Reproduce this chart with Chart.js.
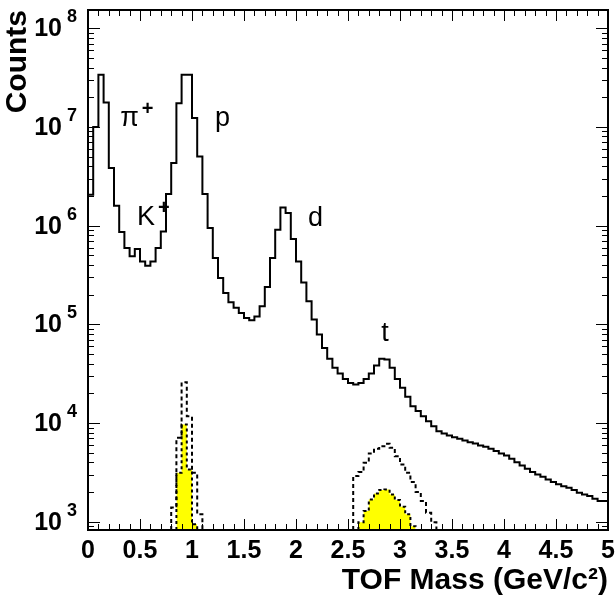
<!DOCTYPE html>
<html>
<head>
<meta charset="utf-8">
<style>
html, body { margin: 0; padding: 0; background: #fff; }
#wrap { width: 616px; height: 603px; }
</style>
</head>
<body>
<div id="wrap"><canvas id="myChart"></canvas></div>
<script src="https://cdn.jsdelivr.net/npm/chart.js@4.4.0/dist/chart.umd.min.js"></script>
<script>
// TOF mass spectrum, 100 bins of 0.05 GeV/c^2 between 0 and 5
const binWidth = 0.05
const massMin = 0, massMax = 5
const countsMin = 824, countsMax = 1.53e8

const allCounts = [
  2.06e6, 1.0e7, 3.37e7, 1.77e7, 3.83e6, 1.59e6, 8.61e5, 5.93e5, 4.88e5, 5.8e5,
  4.34e5, 3.93e5, 4.34e5, 5.93e5, 8.73e5, 2.09e6, 4.3e6, 1.74e7, 3.37e7, 3.37e7,
  1.23e7, 5.01e6, 2.09e6, 9.46e5, 4.7e5, 2.95e5, 2.08e5, 1.67e5, 1.47e5, 1.3e5,
  1.16e5, 1.1e5, 1.2e5, 1.52e5, 2.39e5, 4.7e5, 9.1e5, 1.53e6, 1.34e6, 7.31e5,
  4.34e5, 2.66e5, 1.71e5, 1.12e5, 7.87e4, 5.77e4, 4.47e4, 3.62e4, 3.17e4, 2.8e4,
  2.55e4, 2.45e4, 2.55e4, 2.8e4, 3.17e4, 3.82e4, 4.47e4, 4.4e4, 3.62e4, 2.8e4,
  2.27e4, 1.84e4, 1.48e4, 1.32e4, 1.17e4, 1.04e4, 9290, 8260, 7830, 7470,
  7180, 6920, 6650, 6400, 6210, 5920, 5740, 5480, 5190, 4910,
  4690, 4350, 4010, 3720, 3440, 3180, 3010, 2850, 2680, 2520,
  2390, 2290, 2210, 2090, 1970, 1890, 1820, 1710, 1620, 1620
]

// dashed histograms (first bin index + counts)
const looseStartP = 16
const looseCountsP = [1390, 7080, 25900, 11700, 3130, 1190]
const looseStartT = 51
const looseCountsT = [2900, 3180, 3950, 4910, 5480, 5820, 6150, 5610, 4610, 3800, 3130, 2520, 2000, 1620, 1230, 985]

// yellow filled histograms
const tightStartP = 17
const tightCountsP = [3130, 9660, 3380, 940]
const tightStartT = 52
const tightCountsT = [990, 1280, 1680, 1930, 2090, 2120, 1890, 1660, 1420, 1190, 900]

const particleNames = ['π', 'K', 'p', 'd', 't']
const yDecades = [3, 4, 5, 6, 7, 8]
const xTickStep = 0.5

function histPoints(values, startBin) {
  let pts = [{x: massMin + startBin * binWidth, y: countsMin}]
  values.forEach((v, i) => pts.push({x: massMin + (startBin + i) * binWidth, y: v}))
  let end = massMin + (startBin + values.length) * binWidth
  pts.push({x: end, y: values[values.length - 1]})
  pts.push({x: end, y: countsMin})
  return pts
}

const font = "'Liberation Sans', Arial, Helvetica, sans-serif"
Chart.defaults.font.family = font
Chart.defaults.color = '#000'

const frameAndTicks = {
  id: 'frameAndTicks',
  afterDatasetsDraw(chart) {
    const {ctx, chartArea: a, scales: {x, y}} = chart
    ctx.save()
    ctx.strokeStyle = '#000'
    ctx.lineWidth = 1
    ctx.beginPath()
    for (let k = 0; k <= 50; k++) {
      let px = Math.round(x.getPixelForValue(k * 0.1)) + 0.5
      let len = k % 5 === 0 ? 11 : 6
      ctx.moveTo(px, a.bottom); ctx.lineTo(px, a.bottom - len)
      ctx.moveTo(px, a.top); ctx.lineTo(px, a.top + len)
    }
    for (let e = 2; e <= 8; e++) {
      for (let m = 1; m <= 9; m++) {
        let v = m * Math.pow(10, e)
        if (v < countsMin || v > countsMax) continue
        let py = Math.round(y.getPixelForValue(v)) + 0.5
        let len = m === 1 ? 12 : 6
        ctx.moveTo(a.left, py); ctx.lineTo(a.left + len, py)
        ctx.moveTo(a.right, py); ctx.lineTo(a.right - len, py)
      }
    }
    ctx.stroke()
    ctx.lineWidth = 2
    ctx.strokeRect(a.left, a.top, a.right - a.left, a.bottom - a.top)

    // y labels 10^n
    ctx.fillStyle = '#000'
    ctx.textBaseline = 'middle'
    yDecades.forEach(e => {
      let py = y.getPixelForValue(Math.pow(10, e))
      ctx.font = 'bold 25px ' + font
      ctx.textAlign = 'right'
      ctx.fillText('10', 62, py + 1)
      ctx.font = 'bold 18px ' + font
      ctx.textAlign = 'left'
      ctx.fillText(String(e), 67, py - 11)
    })

    // particle labels
    ctx.textBaseline = 'alphabetic'
    ctx.textAlign = 'left'
    const at = (m, c) => [x.getPixelForValue(m), y.getPixelForValue(c)]
    const spots = [[0.31, 1.03e7, true], [0.47, 1.02e6, true], [1.22, 1.03e7], [2.115, 9.8e5], [2.82, 6.7e4]]
    particleNames.forEach((name, i) => {
      let [px, py] = at(spots[i][0], spots[i][1])
      ctx.font = '27px ' + font
      ctx.fillText(name, px, py)
      if (spots[i][2]) {
        let w = ctx.measureText(name).width
        ctx.font = 'bold 20px ' + font
        ctx.fillText('+', px + w + 3, py - 11)
      }
    })
    ctx.restore()
  }
}

const lineBase = {pointRadius: 0, stepped: 'before', tension: 0, borderColor: '#000'}

new Chart(document.getElementById('myChart'), {
  type: 'line',
  data: {
    datasets: [
      {...lineBase, label: 'all', data: histPoints(allCounts, 0), borderWidth: 2, fill: false},
      {...lineBase, label: 'loose p', data: histPoints(looseCountsP, looseStartP), borderWidth: 2, borderDash: [4, 3], fill: false},
      {...lineBase, label: 'loose t', data: histPoints(looseCountsT, looseStartT), borderWidth: 2, borderDash: [4, 3], fill: false},
      {...lineBase, label: 'tight p', data: histPoints(tightCountsP, tightStartP), borderWidth: 2, borderDash: [3, 3], fill: 'start', backgroundColor: '#ffff00'},
      {...lineBase, label: 'tight t', data: histPoints(tightCountsT, tightStartT), borderWidth: 2, borderDash: [3, 3], fill: 'start', backgroundColor: '#ffff00'}
    ]
  },
  options: {
    responsive: true,
    maintainAspectRatio: false,
    devicePixelRatio: 1,
    animation: false,
    layout: {padding: {top: 10, right: 8, left: 0, bottom: 0}},
    plugins: {legend: {display: false}, tooltip: {enabled: false}},
    scales: {
      x: {
        type: 'linear', min: massMin, max: massMax,
        grid: {display: false}, border: {display: false},
        ticks: {
          stepSize: xTickStep, autoSkip: false, maxRotation: 0, padding: -2,
          font: {size: 25, weight: 'bold'}, color: '#000',
          callback: v => String(+v.toFixed(2))
        },
        title: {display: true, text: 'TOF Mass (GeV/c²)', align: 'end', font: {size: 30, weight: 'bold'}, color: '#000', padding: {top: 0, bottom: 4}},
        afterFit: s => { s.height = 73 }
      },
      y: {
        type: 'logarithmic', min: countsMin, max: countsMax,
        grid: {display: false}, border: {display: false},
        ticks: {display: false},
        title: {display: true, text: 'Counts', align: 'end', font: {size: 30, weight: 'bold'}, color: '#000', padding: 0},
        afterFit: s => { s.width = 88 }
      }
    }
  },
  plugins: [frameAndTicks]
})
</script>
</body>
</html>
